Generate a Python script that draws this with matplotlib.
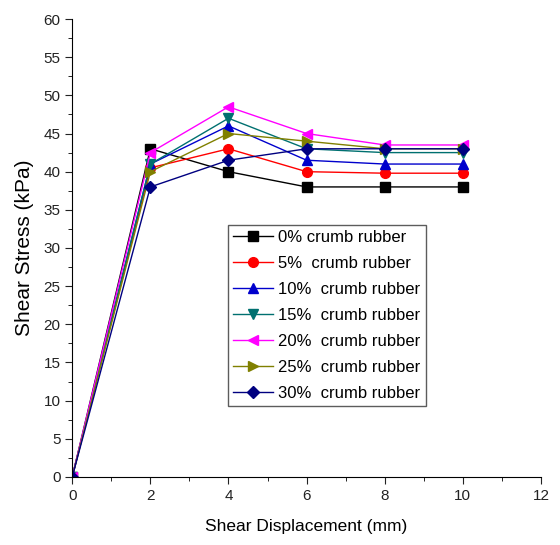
import matplotlib
matplotlib.use('Agg')
import matplotlib.pyplot as plt
from matplotlib.ticker import MultipleLocator

plt.rcParams['font.family'] = ['Liberation Sans', 'DejaVu Sans']

displacement = [0, 2, 4, 6, 8, 10]
labels = ['0% crumb rubber', '5%  crumb rubber', '10%  crumb rubber', '15%  crumb rubber',
          '20%  crumb rubber', '25%  crumb rubber', '30%  crumb rubber']
stress = [
    [0, 43.0, 40.0, 38.0, 38.0, 38.0],
    [0, 40.5, 43.0, 40.0, 39.8, 39.8],
    [0, 41.0, 46.0, 41.5, 41.0, 41.0],
    [0, 41.0, 47.0, 43.0, 42.5, 42.5],
    [0, 42.5, 48.5, 45.0, 43.5, 43.5],
    [0, 40.0, 45.0, 44.0, 43.0, 43.0],
    [0, 38.0, 41.5, 43.0, 43.0, 43.0],
]
colors = ['black', 'red', '#0000cc', '#007070', '#ff00ff', '#808000', '#000080']
markers = ['s', 'o', '^', 'v', '<', '>', 'D']

fig, ax = plt.subplots(figsize=(5.6, 5.45), dpi=100)
fig.subplots_adjust(left=0.129, right=0.966, top=0.965, bottom=0.125)

for y, c, m, lab in zip(stress, colors, markers, labels):
    ms = 6 if m == 'D' else 7
    ax.plot(displacement, y, color=c, marker=m, markersize=ms, linewidth=1,
            label=lab)

ax.set_xlim(0, 12)
ax.set_ylim(0, 60)
ax.xaxis.set_major_locator(MultipleLocator(2))
ax.xaxis.set_minor_locator(MultipleLocator(1))
ax.yaxis.set_major_locator(MultipleLocator(5))
ax.yaxis.set_minor_locator(MultipleLocator(2.5))
ax.spines['top'].set_visible(False)
ax.spines['right'].set_visible(False)
ax.tick_params(which='major', direction='out', length=5, labelsize=11, colors='#222222')
ax.tick_params(which='minor', direction='out', length=3)

ax.set_xlabel('Shear Displacement (mm)', fontsize=12.5, labelpad=12)
ax.set_ylabel('Shear Stress (kPa)', fontsize=15, labelpad=7)

leg = ax.legend(loc='upper left', bbox_to_anchor=(0.333, 0.55), fontsize=12,
                frameon=True, fancybox=False, edgecolor='#333333',
                handlelength=2.4, handletextpad=0.3, labelspacing=0.66,
                borderpad=0.3, borderaxespad=0)
leg.get_frame().set_linewidth(1)

plt.savefig('out.png')
